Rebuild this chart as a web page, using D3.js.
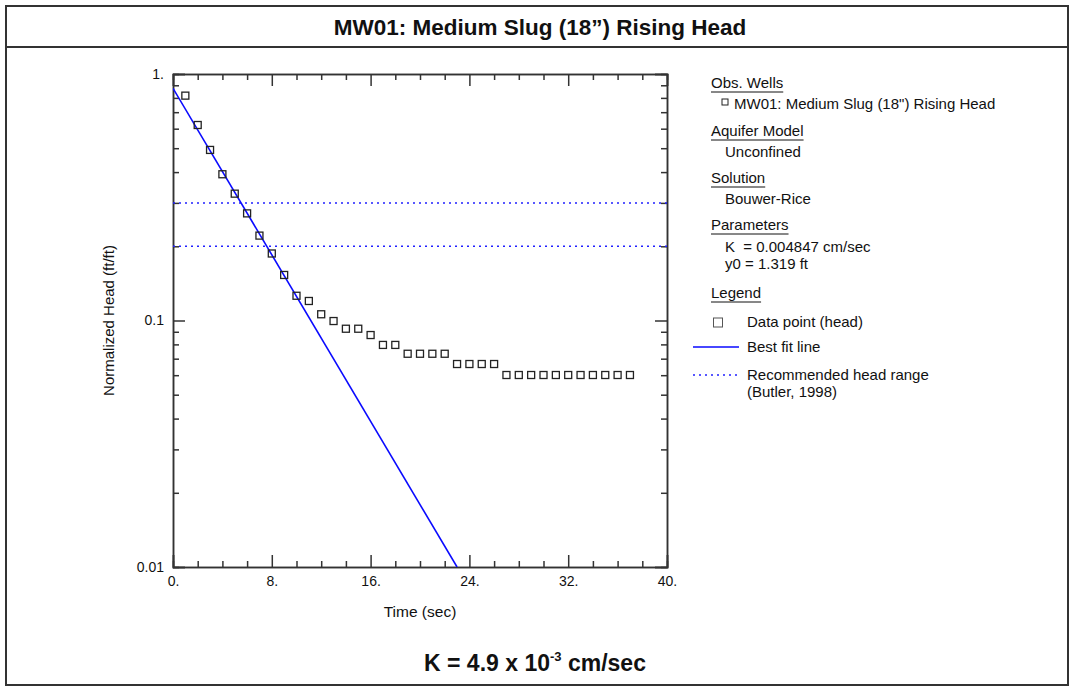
<!DOCTYPE html>
<html>
<head>
<meta charset="utf-8">
<script src="https://cdn.jsdelivr.net/npm/d3@7"></script>
<style>
  body { margin: 0; background: #fff; }
  text { font-family: "Liberation Sans", Arial, sans-serif; fill: #111; }
</style>
</head>
<body>
<div id="graph"></div>
<script>

// observed data (time in sec, normalized head ft/ft)
var times = [1, 2, 3, 4, 5, 6, 7, 8, 9, 10, 11, 12, 13, 14, 15, 16, 17, 18, 19,
             20, 21, 22, 23, 24, 25, 26, 27, 28, 29, 30, 31, 32, 33, 34, 35, 36, 37];
var heads = [0.817, 0.621, 0.492, 0.392, 0.327, 0.272, 0.221, 0.187, 0.153, 0.126,
             0.120, 0.106, 0.0995, 0.0926, 0.0926, 0.0873, 0.0796, 0.0796, 0.0733,
             0.0733, 0.0733, 0.0733, 0.0666, 0.0666, 0.0666, 0.0666, 0.0601, 0.0601,
             0.0601, 0.0601, 0.0601, 0.0601, 0.0601, 0.0601, 0.0601, 0.0601, 0.0601];

// best fit line end points
var fitTimes = [0, 23.0];
var fitHeads = [0.875, 0.01];

// recommended head range (Butler, 1998)
var headRange = [0.2, 0.3];

// axis ticks
var xTicks = [0, 8, 16, 24, 32, 40];
var xMinorTicks = [2, 4, 6, 10, 12, 14, 18, 20, 22, 26, 28, 30, 34, 36, 38];
var yTicks = [0.01, 0.1, 1];
var yTickLabels = ["0.01", "0.1", "1."];
var yMinorTicks = [0.02, 0.03, 0.04, 0.05, 0.06, 0.07, 0.08, 0.09,
                   0.2, 0.3, 0.4, 0.5, 0.6, 0.7, 0.8, 0.9];

var W = 1073, H = 688;
var margin = {top: 74, left: 173},
    width = 494,
    height = 493;

var svg = d3.select("#graph")
  .append("svg")
    .attr("width", W)
    .attr("height", H);

// outer frame and title bar
svg.append("rect")
  .attr("x", 6).attr("y", 6)
  .attr("width", 1062).attr("height", 679)
  .attr("fill", "none")
  .attr("stroke", "#333")
  .attr("stroke-width", 2);
svg.append("line")
  .attr("x1", 6).attr("x2", 1068)
  .attr("y1", 47).attr("y2", 47)
  .attr("stroke", "#333")
  .attr("stroke-width", 2);
svg.append("text")
  .attr("x", 540).attr("y", 35)
  .attr("text-anchor", "middle")
  .style("font-size", "22.5px")
  .style("font-weight", "bold")
  .text("MW01: Medium Slug (18\u201D) Rising Head");

// K result at the bottom
var kText = svg.append("text")
  .attr("x", 535).attr("y", 671)
  .attr("text-anchor", "middle")
  .style("font-size", "23px")
  .style("font-weight", "bold");
kText.append("tspan").text("K = 4.9 x 10");
kText.append("tspan").attr("dy", -10).style("font-size", "13px").text("-3");
kText.append("tspan").attr("dy", 10).text(" cm/sec");

var g = svg.append("g")
  .attr("transform", "translate(" + margin.left + "," + margin.top + ")");

// scales
var x = d3.scaleLinear()
  .domain([0, 40])
  .range([0, width]);
var y = d3.scaleLog()
  .domain([0.01, 1])
  .range([height, 0]);

function styleAxis(sel) {
  sel.selectAll("path, line").attr("stroke", "#333").attr("stroke-width", 1.5);
  sel.selectAll("text").style("font-size", "14px").attr("fill", "#111")
    .style("font-family", "'Liberation Sans', Arial, sans-serif");
}

// x axis, bottom with labels, top mirrored
g.append("g")
  .attr("transform", "translate(0," + height + ")")
  .call(d3.axisBottom(x).tickValues(xTicks).tickSize(-12).tickPadding(9)
    .tickFormat(function(d) { return d + "."; }))
  .call(styleAxis);
g.append("g")
  .attr("transform", "translate(0," + height + ")")
  .call(d3.axisBottom(x).tickValues(xMinorTicks).tickSize(-6).tickFormat(""))
  .call(styleAxis);
g.append("g")
  .call(d3.axisTop(x).tickValues(xTicks).tickSize(-12).tickFormat(""))
  .call(styleAxis);
g.append("g")
  .call(d3.axisTop(x).tickValues(xMinorTicks).tickSize(-6).tickFormat(""))
  .call(styleAxis);

// y axis, left with labels, right mirrored
g.append("g")
  .call(d3.axisLeft(y).tickValues(yTicks).tickSize(-12).tickPadding(9)
    .tickFormat(function(d, i) { return yTickLabels[i]; }))
  .call(styleAxis);
g.append("g")
  .call(d3.axisLeft(y).tickValues(yMinorTicks).tickSize(-6).tickFormat(""))
  .call(styleAxis);
g.append("g")
  .attr("transform", "translate(" + width + ",0)")
  .call(d3.axisRight(y).tickValues(yTicks).tickSize(-12).tickFormat(""))
  .call(styleAxis);
g.append("g")
  .attr("transform", "translate(" + width + ",0)")
  .call(d3.axisRight(y).tickValues(yMinorTicks).tickSize(-6).tickFormat(""))
  .call(styleAxis);

// axis labels
g.append("text")
  .attr("x", x(20)).attr("y", height + 50)
  .attr("text-anchor", "middle")
  .style("font-size", "15.5px")
  .text("Time (sec)");
g.append("text")
  .attr("transform", "translate(" + (-59) + "," + (height / 2) + ") rotate(-90)")
  .attr("text-anchor", "middle")
  .style("font-size", "15px")
  .text("Normalized Head (ft/ft)");

// clip to plot area
g.append("clipPath").attr("id", "plotClip")
  .append("rect").attr("width", width).attr("height", height);

// recommended head range
g.append("g").attr("clip-path", "url(#plotClip)")
  .selectAll("line.range")
  .data(headRange)
  .enter()
  .append("line")
    .attr("x1", 0).attr("x2", width)
    .attr("y1", function(d) { return y(d); })
    .attr("y2", function(d) { return y(d); })
    .attr("stroke", "#2020ff")
    .attr("stroke-width", 1.5)
    .attr("stroke-dasharray", "2,4");

// best fit line
var fitData = fitTimes.map(function(t, i) { return {t: t, v: fitHeads[i]}; });
g.append("path")
  .datum(fitData)
  .attr("clip-path", "url(#plotClip)")
  .attr("fill", "none")
  .attr("stroke", "#0a0aff")
  .attr("stroke-width", 1.6)
  .attr("d", d3.line()
    .x(function(d) { return x(d.t); })
    .y(function(d) { return y(d.v); }));

// data points
var pts = times.map(function(t, i) { return {t: t, v: heads[i]}; });
g.selectAll("rect.pt")
  .data(pts)
  .enter()
  .append("rect")
    .attr("x", function(d) { return x(d.t) - 3.5; })
    .attr("y", function(d) { return y(d.v) - 3.5; })
    .attr("width", 7)
    .attr("height", 7)
    .attr("fill", "none")
    .attr("stroke", "#222")
    .attr("stroke-width", 1.3);

// legend panel
var leg = svg.append("g").style("font-size", "15px");

function heading(txt, yy) {
  var t = leg.append("text").attr("x", 711).attr("y", yy).text(txt);
  var w = t.node().getComputedTextLength();
  leg.append("line")
    .attr("x1", 711).attr("x2", 711 + w)
    .attr("y1", yy + 4).attr("y2", yy + 4)
    .attr("stroke", "#111").attr("stroke-width", 1);
}

heading("Obs. Wells", 88);
leg.append("rect")
  .attr("x", 722).attr("y", 99).attr("width", 6).attr("height", 6)
  .attr("fill", "none").attr("stroke", "#222").attr("stroke-width", 1);
leg.append("text").attr("x", 734).attr("y", 109)
  .text("MW01: Medium Slug (18\") Rising Head");

heading("Aquifer Model", 136);
leg.append("text").attr("x", 725).attr("y", 157).text("Unconfined");

heading("Solution", 183);
leg.append("text").attr("x", 725).attr("y", 204).text("Bouwer-Rice");

heading("Parameters", 230);
leg.append("text").attr("x", 725).attr("y", 252).text("K  = 0.004847 cm/sec")
  .attr("xml:space", "preserve");
leg.append("text").attr("x", 725).attr("y", 269).text("y0 = 1.319 ft");

heading("Legend", 298);
leg.append("rect")
  .attr("x", 713.5).attr("y", 318).attr("width", 9).attr("height", 9)
  .attr("fill", "none").attr("stroke", "#555").attr("stroke-width", 1);
leg.append("text").attr("x", 747).attr("y", 327).text("Data point (head)");
leg.append("line")
  .attr("x1", 693).attr("x2", 739).attr("y1", 347).attr("y2", 347)
  .attr("stroke", "#0a0aff").attr("stroke-width", 1.6);
leg.append("text").attr("x", 747).attr("y", 352).text("Best fit line");
leg.append("line")
  .attr("x1", 693).attr("x2", 739).attr("y1", 375).attr("y2", 375)
  .attr("stroke", "#2020ff").attr("stroke-width", 1.5)
  .attr("stroke-dasharray", "2,4");
leg.append("text").attr("x", 747).attr("y", 380).text("Recommended head range");
leg.append("text").attr("x", 747).attr("y", 397).text("(Butler, 1998)");

</script>
</body>
</html>
